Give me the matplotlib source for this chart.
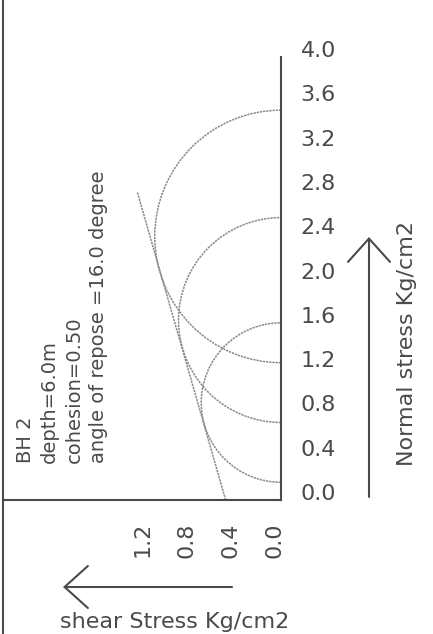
import numpy as np
import matplotlib
matplotlib.use("Agg")
import matplotlib.pyplot as plt
from matplotlib.patches import Arc
from matplotlib.lines import Line2D

# triaxial test results, BH 2 at 6.0 m
sigma3 = [0.16, 0.70, 1.24]   # minor principal stress, Kg/cm2
sigma1 = [1.60, 2.55, 3.52]   # major principal stress, Kg/cm2
cohesion = 0.50
phi_deg = 16.0
env_sigma = [0.0, 2.78]

normal_ticks = [0.0, 0.4, 0.8, 1.2, 1.6, 2.0, 2.4, 2.8, 3.2, 3.6, 4.0]
shear_ticks = [0.0, 0.4, 0.8, 1.2]

W, H = 433, 634
ink = '#4a4a4a'
pencil = '#8a8a8a'

plt.rcParams['font.family'] = ['DejaVu Sans']

fig = plt.figure(figsize=(W / 100, H / 100), dpi=100)
fig.patch.set_facecolor('white')

# shear runs to the left, normal stress runs up
ax = fig.add_axes([3 / W, (H - 500) / H, 278 / W, 500 / H])
ax.set_xlim(2.51, 0)
ax.set_ylim(0, 4.515)
ax.patch.set_alpha(0)

for s3, s1 in zip(sigma3, sigma1):
    c = (s1 + s3) / 2
    r = (s1 - s3) / 2
    ax.add_patch(Arc((0, c), 2 * r, 2 * r, theta1=-90, theta2=90,
                     color=pencil, lw=1.1, linestyle=(0, (1.5, 0.6))))

env_sigma = np.array(env_sigma)
env_tau = cohesion + env_sigma * np.tan(np.radians(phi_deg))
ax.plot(env_tau, env_sigma, color=pencil, lw=1.1, linestyle=(0, (1.5, 0.6)))

ax.spines['top'].set_visible(False)
ax.spines['left'].set_visible(False)
ax.spines['right'].set_bounds(0, 4.0)
for side in ('right', 'bottom'):
    ax.spines[side].set_color(ink)
    ax.spines[side].set_linewidth(1.5)

ax.yaxis.tick_right()
ax.set_yticks(normal_ticks)
ax.set_yticklabels([f'{v:.1f}' for v in normal_ticks])
ax.tick_params(axis='y', length=0, pad=14, labelsize=16, labelcolor=ink)
for lbl in ax.get_yticklabels():
    lbl.set_va('baseline')

ax.set_xticks(shear_ticks)
ax.set_xticklabels([f'{v:.1f}' for v in shear_ticks])
ax.tick_params(axis='x', length=0, pad=16, labelsize=16, labelcolor=ink)
for lbl in ax.get_xticklabels():
    lbl.set_rotation(90)
    lbl.set_rotation_mode('anchor')
    lbl.set_ha('right')
    lbl.set_va('baseline')

# full-height border on the left
fig.add_artist(Line2D([2.5 / W, 2.5 / W], [0, 1], transform=fig.transFigure,
                      color=ink, lw=1.5))

fig.text(16 / W, 1 - 463 / H,
         'BH 2\ndepth=6.0m\ncohesion=0.50\nangle of repose =16.0 degree',
         rotation=90, rotation_mode='anchor', ha='left', va='top',
         multialignment='left', linespacing=1.35, fontsize=14, color=ink)

fig.text(407 / W, 1 - 343 / H, 'Normal stress Kg/cm2', rotation=90,
         ha='center', va='center', fontsize=16, color=ink)
fig.text(60 / W, 1 - 622 / H, 'shear Stress Kg/cm2', ha='left',
         va='center', fontsize=16, color=ink)

arrow = dict(arrowstyle='->,head_length=0.4,head_width=0.36', lw=1.5,
             color=ink, mutation_scale=42, shrinkA=0, shrinkB=0)
ax.annotate('', xy=(369 / W, 1 - 237 / H), xytext=(369 / W, 1 - 497 / H),
            xycoords='figure fraction', textcoords='figure fraction',
            arrowprops=arrow)
ax.annotate('', xy=(63 / W, 1 - 587 / H), xytext=(232 / W, 1 - 587 / H),
            xycoords='figure fraction', textcoords='figure fraction',
            arrowprops=arrow)

fig.savefig('out.png', dpi=100, facecolor='white')
